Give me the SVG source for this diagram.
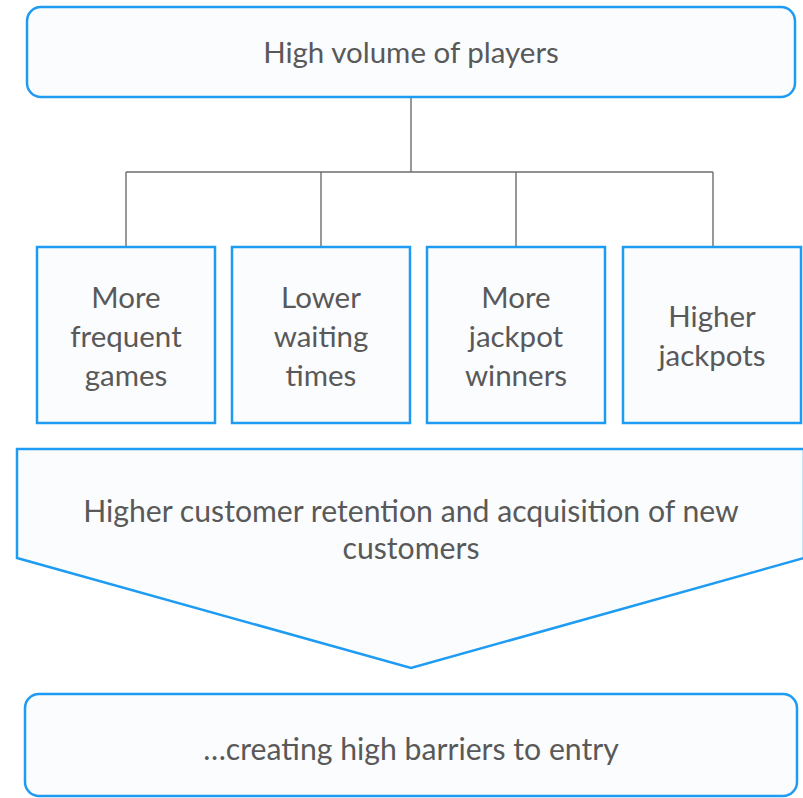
<svg xmlns="http://www.w3.org/2000/svg" width="803" height="798" viewBox="0 0 803 798">
<style>
.box{fill:#fbfcfe;stroke:#1e9bf3;stroke-width:2.5}
.t{font-family:Lato,"Liberation Sans",sans-serif;fill:#595959;text-anchor:middle}
.big{font-size:29.5px}
.mid{font-size:29.5px}
.wide{font-size:30.2px}
.c{stroke:#6e6e6e;stroke-width:1.4;fill:none}
</style>
<rect width="803" height="798" fill="#ffffff"/>
<g id="connectors">
<path class="c" d="M411 97V172M126 172H713M126 172V247M321 172V247M516 172V247M713 172V247"/>
</g>
<g id="top">
<rect class="box" x="27" y="7" width="768" height="90" rx="14"/>
<text class="t big" x="411" y="63">High volume of players</text>
</g>
<g id="n1">
<rect class="box" x="37" y="247" width="178" height="176"/>
<text class="t mid" x="126" y="308">More</text>
<text class="t mid" x="126" y="347">frequent</text>
<text class="t mid" x="126" y="386">games</text>
</g>
<g id="n2">
<rect class="box" x="232" y="247" width="178" height="176"/>
<text class="t mid" x="321" y="308">Lower</text>
<text class="t mid" x="321" y="347">waiting</text>
<text class="t mid" x="321" y="386">times</text>
</g>
<g id="n3">
<rect class="box" x="427" y="247" width="178" height="176"/>
<text class="t mid" x="516" y="308">More</text>
<text class="t mid" x="516" y="347">jackpot</text>
<text class="t mid" x="516" y="386">winners</text>
</g>
<g id="n4">
<rect class="box" x="623" y="247" width="178" height="176"/>
<text class="t mid" x="712" y="327">Higher</text>
<text class="t mid" x="712" y="366">jackpots</text>
</g>
<g id="chevron">
<path class="box" d="M17 449H804V558L411 668L17 558Z"/>
<text class="t wide" x="411" y="522">Higher customer retention and acquisition of new</text>
<text class="t wide" x="411" y="559">customers</text>
</g>
<g id="bottom">
<rect class="box" x="25" y="694" width="772" height="102" rx="14"/>
<text class="t wide" x="411" y="760">…creating high barriers to entry</text>
</g>
</svg>
